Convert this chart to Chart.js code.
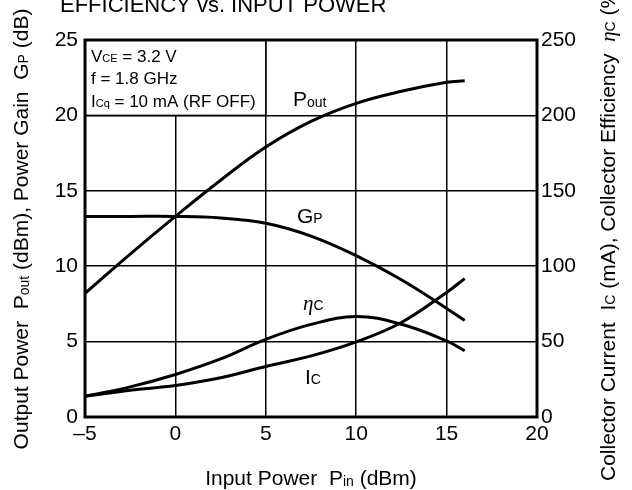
<!DOCTYPE html>
<html>
<head>
<meta charset="utf-8">
<script src="https://cdn.jsdelivr.net/npm/chart.js@4.4.0/dist/chart.umd.min.js"></script>
<style>
  html, body { margin: 0; padding: 0; background: #fff; }
  #wrap { width: 632px; height: 490px; }
</style>
</head>
<body>
<div id="wrap"><canvas id="chart" width="632" height="490"></canvas></div>
<script>
// input power Pin (dBm)
const pin = [-5, -2.5, 0, 2.5, 5, 7.5, 10, 12.5, 15, 16];
// left axis: Pout (dBm), Gp (dB)
const pout = [8.2, 10.8, 13.3, 15.7, 17.9, 19.6, 20.8, 21.6, 22.2, 22.3];
const gain = [13.3, 13.3, 13.3, 13.2, 12.85, 12.0, 10.7, 9.1, 7.2, 6.4];
// right axis: efficiency (%), collector current (mA)
const eff = [13.8, 20, 28.2, 38.5, 51.5, 61.4, 66.6, 61.5, 50.5, 43.9];
const icur = [13.8, 17.8, 20.9, 26, 33.5, 40.5, 49.8, 62.7, 82.6, 91.8];

const xTicks = [-5, 0, 5, 10, 15, 20];
const leftTicks = [0, 5, 10, 15, 20, 25];
const rightTicks = [0, 50, 100, 150, 200, 250];

const FONT = '"Liberation Sans", Arial, sans-serif';

function pts(ys) {
  return pin.map((x, i) => ({ x: x, y: ys[i] }));
}

function line(data, axis) {
  return {
    data: pts(data),
    yAxisID: axis,
    borderColor: '#000',
    borderWidth: 3,
    pointRadius: 0,
    fill: false,
    tension: 0.4
  };
}

// text with small / lowered parts: [text, small, italic, drop]
function rich(ctx, x, y, parts, size, align) {
  const fontOf = p => (p[2] ? 'italic ' : '') + (p[1] ? Math.round(size * 0.66) : size) + 'px ' + (p[2] ? '"Liberation Serif", serif' : FONT);
  let w = 0;
  parts.forEach(p => { ctx.font = fontOf(p); w += ctx.measureText(p[0]).width; });
  let cx = align === 'center' ? x - w / 2 : x;
  ctx.textAlign = 'left';
  ctx.textBaseline = 'alphabetic';
  parts.forEach(p => {
    ctx.font = fontOf(p);
    ctx.fillText(p[0], cx, y + (p[3] || 0));
    cx += ctx.measureText(p[0]).width;
  });
}

const decor = {
  id: 'decor',
  afterDraw(chart) {
    const ctx = chart.ctx;
    const a = chart.chartArea;
    const xs = chart.scales.x, ys = chart.scales.y;
    ctx.save();
    ctx.fillStyle = '#000';

    // condition box
    const bx = a.left, by = a.top, bw = xs.getPixelForValue(5) - a.left, bh = ys.getPixelForValue(20) - a.top;
    ctx.fillStyle = '#fff';
    ctx.fillRect(bx, by, bw, bh);
    ctx.strokeStyle = '#000';
    ctx.lineWidth = 1.5;
    ctx.strokeRect(bx, by, bw, bh);
    ctx.fillStyle = '#000';
    rich(ctx, 91, 62, [['V'], ['CE', true], [' = 3.2 V']], 17);
    rich(ctx, 91, 84, [['f = 1.8 GHz']], 17);
    rich(ctx, 91, 107, [['I'], ['Cq', true], [' = 10 mA (RF OFF)']], 17);

    // frame
    ctx.lineWidth = 3;
    ctx.strokeRect(a.left, a.top, a.right - a.left, a.bottom - a.top);

    // curve labels
    rich(ctx, 293, 106, [['P'], ['out', true, false, 1]], 21);
    rich(ctx, 297, 223, [['G'], ['P', true]], 21);
    rich(ctx, 303, 310, [['η', false, true], ['C', true]], 21);
    rich(ctx, 305, 384, [['I'], ['C', true]], 21);

    // title (cut at top)
    rich(ctx, 60, 12, [['EFFICIENCY vs. INPUT POWER']], 22);

    // x axis title
    rich(ctx, 311, 485, [['Input Power  P'], ['in', true, false, 1], [' (dBm)']], 21, 'center');

    // left axis title
    ctx.save();
    ctx.translate(28, 229);
    ctx.rotate(-Math.PI / 2);
    rich(ctx, 0, 0, [['Output Power  P'], ['out', true, false, 1], [' (dBm), Power Gain  G'], ['P', true], [' (dB)']], 21, 'center');
    ctx.restore();

    // right axis title
    ctx.save();
    ctx.translate(615, 481);
    ctx.rotate(-Math.PI / 2);
    rich(ctx, 0, 0, [['Collector Current  I'], ['C', true], [' (mA), Collector Efficiency  '], ['η', false, true], ['C', true], [' (%)']], 21);
    ctx.restore();

    ctx.restore();
  }
};

const tickFont = { family: FONT, size: 21 };

new Chart(document.getElementById('chart'), {
  type: 'line',
  data: {
    datasets: [
      line(pout, 'y'),
      line(gain, 'y'),
      line(eff, 'y2'),
      line(icur, 'y2')
    ]
  },
  options: {
    responsive: false,
    animation: false,
    events: [],
    layout: { padding: { top: 40, left: 0, right: 0, bottom: 0 } },
    plugins: { legend: { display: false }, tooltip: { enabled: false } },
    scales: {
      x: {
        type: 'linear', min: -5, max: 20,
        afterBuildTicks: s => { s.ticks = xTicks.map(v => ({ value: v })); },
        afterFit: s => { s.height = 73; },
        grid: { color: '#000', lineWidth: 1.5, drawTicks: false },
        border: { display: false },
        ticks: {
          color: '#000', font: tickFont, padding: 5, maxRotation: 0,
          callback: v => v < 0 ? '–' + Math.abs(v) : String(v)
        }
      },
      y: {
        position: 'left', min: 0, max: 25,
        afterBuildTicks: s => { s.ticks = leftTicks.map(v => ({ value: v })); },
        afterFit: s => { s.width = 85; },
        grid: { color: '#000', lineWidth: 1.5, drawTicks: false },
        border: { display: false },
        ticks: { color: '#000', font: tickFont, padding: 7 }
      },
      y2: {
        position: 'right', min: 0, max: 250,
        afterBuildTicks: s => { s.ticks = rightTicks.map(v => ({ value: v })); },
        afterFit: s => { s.width = 95; },
        grid: { display: false, drawTicks: false },
        border: { display: false },
        ticks: { color: '#000', font: tickFont, padding: 4 }
      }
    }
  },
  plugins: [decor]
});
</script>
</body>
</html>
